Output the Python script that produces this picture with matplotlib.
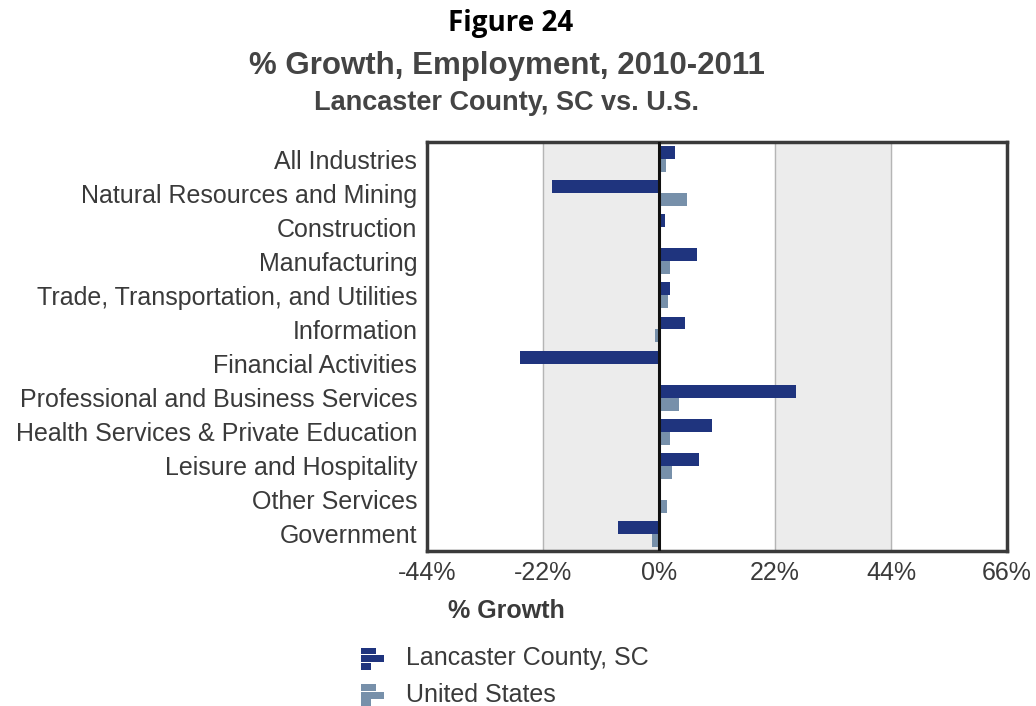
import matplotlib.pyplot as plt
import numpy as np
from matplotlib.legend_handler import HandlerBase
from matplotlib.patches import Rectangle

categories = ['All Industries', 'Natural Resources and Mining', 'Construction',
              'Manufacturing', 'Trade, Transportation, and Utilities',
              'Information', 'Financial Activities',
              'Professional and Business Services',
              'Health Services & Private Education', 'Leisure and Hospitality',
              'Other Services', 'Government']
lancaster = [3.0, -20.3, 1.1, 7.3, 2.0, 4.9, -26.4, 26.0, 10.0, 7.6, 0.4, -7.7]
united_states = [1.4, 5.3, 0.0, 2.1, 1.7, -0.7, 0.0, 3.7, 2.1, 2.4, 1.5, -1.4]
xticks = [-44, -22, 0, 22, 44, 66]

NAVY = '#1f347e'
STEEL = '#7790aa'
TXT = '#3a3a3a'
FS = 18

plt.rcParams['font.family'] = ['Liberation Sans', 'DejaVu Sans']


class BarIconHandler(HandlerBase):
    # small bar-chart glyph like the original legend icon
    def create_artists(self, legend, orig_handle, xdescent, ydescent,
                       width, height, fontsize, trans):
        c = orig_handle.get_facecolor()
        w = 17
        s = 5.5
        x0 = -xdescent
        y0 = -ydescent - 3
        rects = [Rectangle((x0, y0 + 2 * s), w * 0.65, s * 0.9),
                 Rectangle((x0, y0 + s), w, s * 0.9),
                 Rectangle((x0, y0), w * 0.45, s * 0.9)]
        for r in rects:
            r.set_facecolor(c)
            r.set_edgecolor('none')
            r.set_transform(trans)
        return rects


fig = plt.figure(figsize=(10.36, 7.06), dpi=100)
ax = fig.add_axes([427 / 1036, 1 - 551 / 706, 580 / 1036, 409 / 706])

y = np.arange(len(categories))
h = 0.38
ax.axvspan(-22, 0, color='#ececec', zorder=0)
ax.axvspan(22, 44, color='#ececec', zorder=0)
for g in [-22, 22, 44]:
    ax.axvline(g, color='#b5b5b5', lw=1, zorder=1)

ax.barh(y - h / 2, lancaster, height=h, color=NAVY, zorder=3,
        label='Lancaster County, SC')
ax.barh(y + h / 2, united_states, height=h, color=STEEL, zorder=3,
        label='United States')
ax.axvline(0, color='#111111', lw=2.2, zorder=4)

ax.set_xlim(-44, 66)
ax.set_ylim(len(categories) - 0.5, -0.5)
ax.set_xticks(xticks)
ax.set_xticklabels([f'{t}%' for t in xticks], fontsize=FS, color=TXT)
ax.set_yticks(y)
ax.set_yticklabels(categories, fontsize=FS, color=TXT)
ax.tick_params(length=0, pad=7)
for s in ax.spines.values():
    s.set_linewidth(2.5)
    s.set_color('#3a3a3a')

fig.text(506 / 1036, 1 - 611 / 706, '% Growth', fontsize=FS, weight='bold',
         color=TXT, ha='center', va='center')

fig.text(511 / 1036, 1 - 23 / 706, 'Figure 24', fontsize=20, weight='bold',
         color='black', ha='center', va='center',
         family=['Open Sans', 'DejaVu Sans'])
fig.text(507 / 1036, 1 - 66 / 706, '% Growth, Employment, 2010-2011',
         fontsize=22.5, weight='bold', color='#444444', ha='center',
         va='center')
fig.text(506 / 1036, 1 - 103 / 706, 'Lancaster County, SC vs. U.S.',
         fontsize=19.5, weight='bold', color='#444444', ha='center',
         va='center')

handles, labels = ax.get_legend_handles_labels()
leg = fig.legend([handles[0].patches[0], handles[1].patches[0]], labels,
                 loc='upper left', bbox_to_anchor=(348 / 1036, 1 - 634 / 706),
                 frameon=False, fontsize=FS, handler_map={
                     Rectangle: BarIconHandler()},
                 handlelength=1.0, handletextpad=0.8, labelspacing=0.5,
                 borderpad=0)
for t in leg.get_texts():
    t.set_color(TXT)

fig.savefig('out.png', dpi=100)
